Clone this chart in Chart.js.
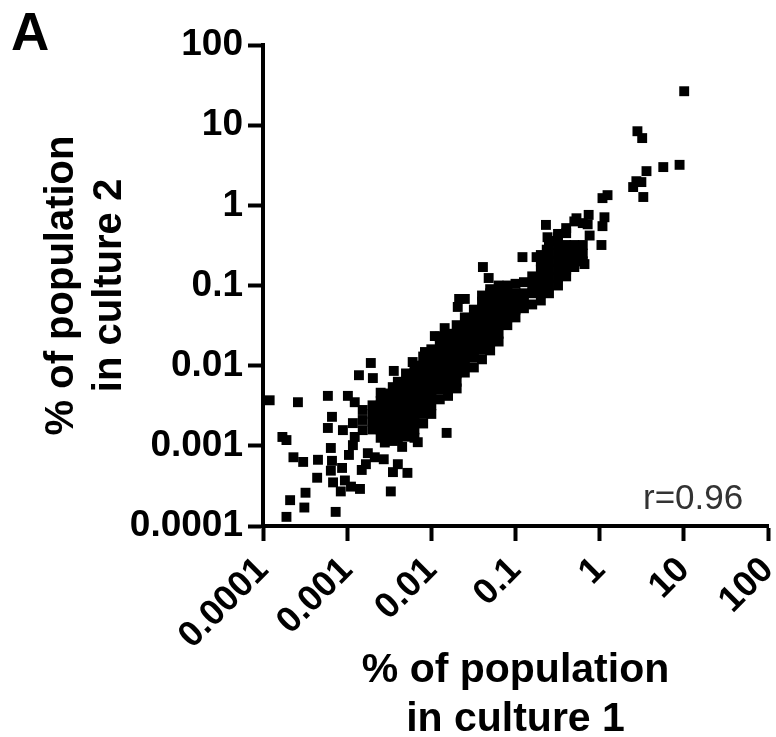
<!DOCTYPE html>
<html lang="en">
<head>
  <meta charset="UTF-8">
  <title>Culture correlation</title>
  <script src="https://cdn.jsdelivr.net/npm/chart.js"></script>
  <style>
    html, body { margin: 0; padding: 0; background: #fff; }
    canvas { display: block; }
  </style>
</head>
<body>
  <canvas id="scatter" width="776" height="737"></canvas>
<script>
const tickValues = [0.0001, 0.001, 0.01, 0.1, 1, 10, 100];
const tickLabels = ['0.0001', '0.001', '0.01', '0.1', '1', '10', '100'];

// separate points, read one by one
const looseCulture1 = [
  0.00012, 0.00026, 0.00059, 0.00102, 0.00123, 0.00191, 0.00138, 0.00202, 0.00358, 0.0060, 0.0084, 0.00348, 0.0025,
  0.00066, 0.00059, 0.00089, 0.00017, 0.00019, 0.00064, 0.00023, 0.0003, 0.00045, 0.00066, 0.00087, 0.00064, 0.00044,
  0.00068, 0.00094, 0.00084, 0.00111, 0.00142, 0.00032, 0.00021, 0.00031, 0.00019, 0.00073, 0.0033, 0.00149, 0.00167,
  0.00272, 0.00213, 0.004, 0.0035, 0.0052, 0.0152, 0.0045, 0.0069, 0.00105, 0.00117, 0.00123, 0.00117, 0.00176,
  0.0144, 0.011, 0.0206, 0.025, 0.0214, 0.041, 0.048, 0.121, 0.178, 0.23, 0.24, 0.235, 0.66, 0.76, 0.72, 0.53, 0.74,
  0.40, 1.05, 1.08, 1.14, 1.08, 1.24, 3.3, 2.5, 3.13, 2.73, 8.9, 5.7, 3.6, 3.2, 2.81, 10.1,
  0.00153, 0.00153, 0.00153, 0.0028, 0.0035
];
const looseCulture2 = [
  0.0037, 0.0035, 0.0042, 0.0042, 0.0035, 0.0108, 0.0076, 0.0070, 0.0086, 0.0111, 0.0148, 0.0054, 0.0046,
  0.0023, 0.00167, 0.00157, 0.00129, 0.00118, 0.00094, 0.00072, 0.00063, 0.00067, 0.00065, 0.00053, 0.00049, 0.0004,
  0.00035, 0.00037, 0.00027, 0.00031, 0.00029, 0.00026, 0.00021, 0.00017, 0.00013, 0.00015, 0.00027, 0.0005, 0.00059,
  0.00068, 0.00072, 0.00059, 0.00047, 0.00046, 0.00145, 0.00097, 0.00111, 0.00077, 0.00102, 0.00129, 0.00192, 0.00081,
  0.0294, 0.0234, 0.054, 0.068, 0.068, 0.17, 0.124, 0.226, 0.226, 0.57, 0.40, 0.28, 0.185, 0.42, 0.58, 0.69, 0.76,
  0.52, 0.32, 0.55, 0.71, 1.23, 1.34, 1.27, 1.69, 1.95, 2.0, 3.2, 3.0, 2.67, 6.9, 8.4, 26.5,
  0.0028, 0.0021, 0.00157, 0.0011, 0.00115
];

// dense band, one list of culture 2 values per culture 1 value
const bandCulture1 = [
  0.002, 0.0025, 0.0032, 0.004, 0.005, 0.0063, 0.008, 0.01, 0.0126, 0.0158, 0.02, 0.025, 0.032, 0.04, 0.05, 0.063,
  0.08, 0.1, 0.126, 0.158, 0.2, 0.25, 0.32, 0.4, 0.5, 0.63
];
const bandCulture2 = [
  [0.0032, 0.0025, 0.002, 0.0016],
  [0.0036, 0.0032, 0.0025, 0.002, 0.0016, 0.00126],
  [0.0045, 0.004, 0.0032, 0.0025, 0.002, 0.0016, 0.00126],
  [0.0063, 0.005, 0.004, 0.0032, 0.0025, 0.002, 0.0016, 0.00126],
  [0.008, 0.0063, 0.005, 0.004, 0.0032, 0.0025, 0.002, 0.0016, 0.0013],
  [0.01, 0.008, 0.0063, 0.005, 0.004, 0.0032, 0.0025, 0.002, 0.0016, 0.00126],
  [0.013, 0.01, 0.008, 0.0063, 0.005, 0.004, 0.0032, 0.0025, 0.0019],
  [0.016, 0.0126, 0.01, 0.008, 0.0063, 0.005, 0.004, 0.0032, 0.0025],
  [0.023, 0.02, 0.0158, 0.0126, 0.01, 0.008, 0.0063, 0.005, 0.0038],
  [0.025, 0.02, 0.0158, 0.0126, 0.01, 0.008, 0.0063, 0.005, 0.0042],
  [0.032, 0.025, 0.02, 0.0158, 0.0126, 0.01, 0.008, 0.0063, 0.0052],
  [0.04, 0.032, 0.025, 0.02, 0.0158, 0.0126, 0.01, 0.0082],
  [0.05, 0.04, 0.032, 0.025, 0.02, 0.0158, 0.0126, 0.0095],
  [0.075, 0.063, 0.05, 0.04, 0.032, 0.025, 0.02, 0.0158, 0.012],
  [0.09, 0.08, 0.063, 0.05, 0.04, 0.032, 0.025, 0.02, 0.0155],
  [0.1, 0.08, 0.063, 0.05, 0.04, 0.032, 0.025, 0.02],
  [0.1, 0.08, 0.063, 0.05, 0.04, 0.032],
  [0.105, 0.08, 0.063, 0.05, 0.04],
  [0.11, 0.08, 0.063, 0.052],
  [0.13, 0.1, 0.08, 0.058],
  [0.24, 0.2, 0.158, 0.126, 0.1, 0.08, 0.065],
  [0.36, 0.32, 0.25, 0.2, 0.158, 0.126, 0.1, 0.08],
  [0.44, 0.4, 0.32, 0.25, 0.2, 0.158, 0.126, 0.1],
  [0.45, 0.32, 0.25, 0.2, 0.158, 0.13],
  [0.63, 0.32, 0.25, 0.2, 0.17],
  [0.6, 0.32, 0.25, 0.2]
];

const points = looseCulture1.map((x, i) => ({ x: x, y: looseCulture2[i] }));
bandCulture1.forEach((x, i) => {
  bandCulture2[i].forEach((y) => points.push({ x: x, y: y }));
});

function decadeTicks(scale) {
  scale.ticks = tickValues.map((v) => ({ value: v }));
}

function tickLabel(value) {
  return tickLabels[tickValues.indexOf(value)];
}

// panel letter and r value
const notes = {
  id: 'notes',
  afterDraw(chart) {
    const ctx = chart.ctx;
    ctx.save();
    ctx.fillStyle = '#000';
    ctx.font = 'bold 53px "Liberation Sans"';
    ctx.fillText('A', 11, 50);
    ctx.fillStyle = '#333';
    ctx.font = '35px "Liberation Sans"';
    ctx.fillText('r=0.96', 643, 509);
    ctx.restore();
  }
};

new Chart(document.getElementById('scatter'), {
  type: 'scatter',
  data: {
    datasets: [{
      data: points,
      backgroundColor: '#000',
      borderColor: '#000',
      borderWidth: 0,
      pointStyle: 'rect',
      pointRadius: 7
    }]
  },
  plugins: [notes],
  options: {
    responsive: false,
    animation: false,
    layout: { padding: { left: 0, top: 45, right: 8, bottom: 0 } },
    plugins: { legend: { display: false }, tooltip: { enabled: false } },
    scales: {
      x: {
        type: 'logarithmic',
        min: 0.0001,
        max: 100,
        afterBuildTicks: decadeTicks,
        afterFit(scale) {
          scale.height = 211;
          scale.paddingLeft = 0;
          scale.paddingRight = 0;
        },
        border: { color: '#000', width: 4 },
        grid: { drawOnChartArea: false, tickLength: 15, tickWidth: 4, tickColor: '#000' },
        ticks: {
          autoSkip: false,
          minRotation: 45,
          maxRotation: 45,
          padding: 8,
          color: '#000',
          font: { family: '"Liberation Sans"', size: 36, weight: 'bold' },
          callback: tickLabel
        },
        title: {
          display: true,
          text: ['% of population', 'in culture 1'],
          color: '#000',
          padding: { top: 0, bottom: -7 },
          font: { family: '"Liberation Sans"', size: 41, weight: 'bold', lineHeight: 1.2 }
        }
      },
      y: {
        type: 'logarithmic',
        min: 0.0001,
        max: 100,
        afterBuildTicks: decadeTicks,
        afterFit(scale) { scale.width = 263; },
        border: { color: '#000', width: 4 },
        grid: { drawOnChartArea: false, tickLength: 15, tickWidth: 4, tickColor: '#000' },
        ticks: {
          autoSkip: false,
          padding: 5,
          color: '#000',
          font: { family: '"Liberation Sans"', size: 37, weight: 'bold' },
          callback: tickLabel
        },
        title: {
          display: true,
          text: ['% of population', 'in culture 2'],
          color: '#000',
          padding: { top: 38, bottom: 0 },
          font: { family: '"Liberation Sans"', size: 40, weight: 'bold', lineHeight: 1.2 }
        }
      }
    }
  }
});
</script>
</body>
</html>
